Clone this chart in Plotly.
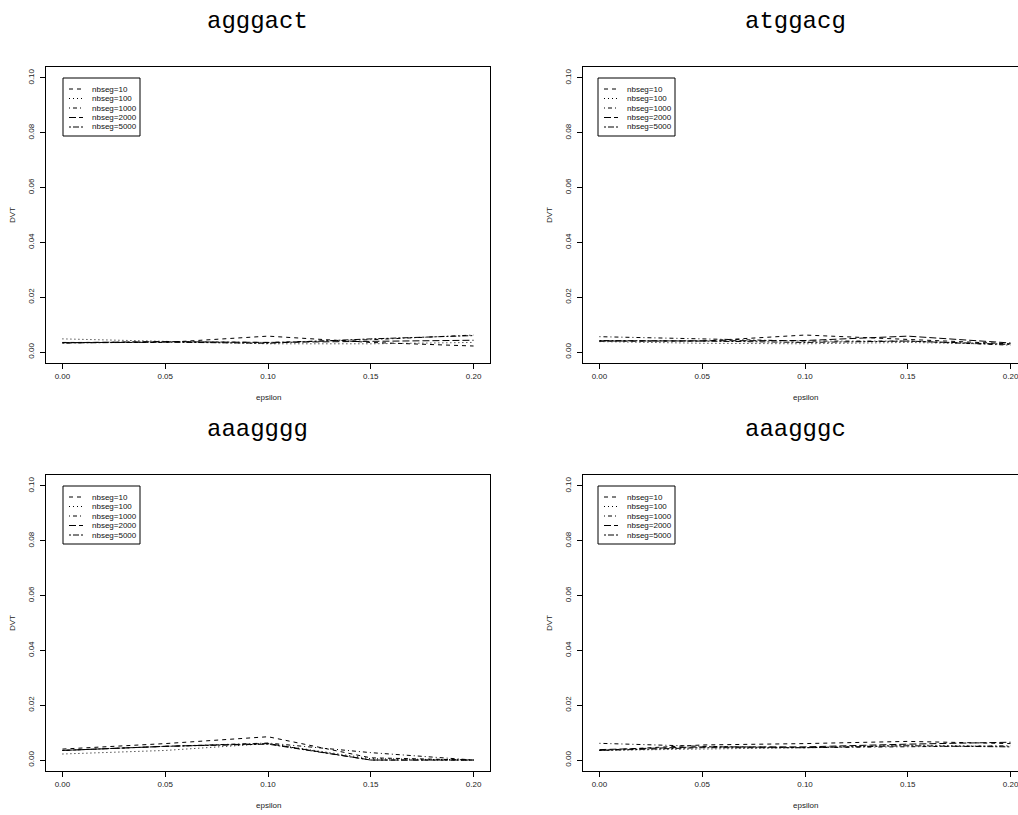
import plotly.graph_objects as go

W, H = 1018, 815

# ---------------- data ----------------
epsilon = [0.00, 0.05, 0.10, 0.15, 0.20]
series_names = ["nbseg=10", "nbseg=100", "nbseg=1000", "nbseg=2000", "nbseg=5000"]
panel_titles = ["agggact", "atggacg", "aaagggg", "aaagggc"]
x_ticks = [0.00, 0.05, 0.10, 0.15, 0.20]
y_ticks = [0.00, 0.02, 0.04, 0.06, 0.08, 0.10]

# DVT values, one row per series (nbseg=10, 100, 1000, 2000, 5000)
dvt_agggact = [
    [0.0035, 0.0035, 0.0058, 0.0035, 0.0022],
    [0.0048, 0.0040, 0.0030, 0.0030, 0.0035],
    [0.0033, 0.0038, 0.0035, 0.0045, 0.0062],
    [0.0034, 0.0038, 0.0035, 0.0040, 0.0043],
    [0.0033, 0.0036, 0.0032, 0.0048, 0.0060],
]
dvt_atggacg = [
    [0.0040, 0.0040, 0.0062, 0.0045, 0.0030],
    [0.0038, 0.0032, 0.0030, 0.0035, 0.0028],
    [0.0056, 0.0048, 0.0040, 0.0040, 0.0025],
    [0.0040, 0.0040, 0.0042, 0.0058, 0.0033],
    [0.0042, 0.0040, 0.0035, 0.0040, 0.0028],
]
dvt_aaagggg = [
    [0.0040, 0.0060, 0.0085, 0.0008, 0.0000],
    [0.0022, 0.0035, 0.0060, 0.0005, 0.0000],
    [0.0035, 0.0050, 0.0062, 0.0027, 0.0000],
    [0.0035, 0.0050, 0.0060, 0.0000, 0.0000],
    [0.0035, 0.0050, 0.0058, 0.0000, 0.0000],
]
dvt_aaagggc = [
    [0.0035, 0.0055, 0.0060, 0.0068, 0.0060],
    [0.0035, 0.0040, 0.0045, 0.0055, 0.0050],
    [0.0061, 0.0050, 0.0045, 0.0048, 0.0052],
    [0.0038, 0.0048, 0.0048, 0.0058, 0.0065],
    [0.0035, 0.0045, 0.0045, 0.0052, 0.0048],
]
panel_data = [dvt_agggact, dvt_atggacg, dvt_aaagggg, dvt_aaagggc]

# ---------------- styles ----------------
dashes = ["4px,4px", "1px,3px", "1px,3px,4px,3px", "7px,3px", "2px,2px,6px,2px"]
TICK_FONT = dict(family="Liberation Sans, Arial, sans-serif", size=8, color="#222")
TITLE_FONT = dict(family="Liberation Mono, Courier New, monospace", size=24, color="#000")


def px(x):
    return x / W


def py(y):
    return 1 - y / H


# panel geometry in pixels: (left, right, top, bottom)
cols = [(46, 490), (583, 1018)]
rows = [(67, 363), (475, 771)]
full_w = 444

fig = go.Figure()
annotations = []
shapes = []

for k in range(4):
    r, c = divmod(k, 2)
    x0, x1 = cols[c]
    y0, y1 = rows[r]
    xa = "x" if k == 0 else f"x{k+1}"
    ya = "y" if k == 0 else f"y{k+1}"
    xkey = "xaxis" if k == 0 else f"xaxis{k+1}"
    ykey = "yaxis" if k == 0 else f"yaxis{k+1}"

    # R-style 4% padding; right column is clipped at the page edge
    xr0, xr1 = -0.008, 0.208
    xr1 = xr0 + (xr1 - xr0) * (x1 - x0) / full_w

    for i, name in enumerate(series_names):
        fig.add_trace(go.Scatter(
            x=epsilon, y=panel_data[k][i], mode="lines", name=name,
            line=dict(color="black", width=1, dash=dashes[i]),
            xaxis=xa, yaxis=ya, showlegend=False, hoverinfo="skip",
        ))

    fig.update_layout(**{
        xkey: dict(
            domain=[px(x0), px(x1)], range=[xr0, xr1], anchor=ya,
            tickvals=x_ticks, tickformat=".2f", ticks="outside", ticklen=5,
            tickwidth=1, tickcolor="black", showline=True, linecolor="black",
            linewidth=1, mirror=True, showgrid=False, zeroline=False,
            tickfont=TICK_FONT, ticklabeloverflow="allow",
        ),
        ykey: dict(
            domain=[py(y1), py(y0)], range=[-0.004, 0.104], anchor=xa,
            tickvals=y_ticks, tickformat=".2f", ticks="outside", ticklen=5,
            tickwidth=1, tickcolor="black", showline=True, linecolor="black",
            linewidth=1, mirror=(c == 0), showgrid=False, zeroline=False,
            tickfont=TICK_FONT, tickangle=-90, ticklabelstandoff=3,
        ),
    })

    # panel title
    annotations.append(dict(
        text=panel_titles[k], x=px(257 if c == 0 else 795), y=py(y0 - 45),
        xref="paper", yref="paper", showarrow=False, font=TITLE_FONT,
        xanchor="center", yanchor="middle",
    ))
    # axis titles
    annotations.append(dict(
        text="DVT", x=px(x0 - 34), y=py((y0 + y1) / 2), xref="paper", yref="paper",
        showarrow=False, textangle=-90, font=TICK_FONT,
        xanchor="center", yanchor="middle",
    ))
    annotations.append(dict(
        text="epsilon", x=px(x0 + 222), y=py(y1 + 34), xref="paper", yref="paper",
        showarrow=False, font=TICK_FONT, xanchor="center", yanchor="middle",
    ))

    # legend box
    lx = x0 + (17 if c == 0 else 15)
    shapes.append(dict(
        type="rect", xref="paper", yref="paper",
        x0=px(lx), x1=px(lx + 77), y0=py(y0 + 11), y1=py(y0 + 69),
        line=dict(color="black", width=1), fillcolor="white", layer="above",
    ))
    for i, name in enumerate(series_names):
        yy = y0 + 22 + i * 9.5
        shapes.append(dict(
            type="line", xref="paper", yref="paper",
            x0=px(lx + 6), x1=px(lx + 20), y0=py(yy), y1=py(yy),
            line=dict(color="black", width=1, dash=dashes[i]), layer="above",
        ))
        annotations.append(dict(
            text=name, x=px(lx + 27), y=py(yy), xref="paper", yref="paper",
            showarrow=False, font=dict(family=TICK_FONT["family"], size=8, color="#111"),
            xanchor="left", yanchor="middle",
        ))

fig.update_layout(
    width=W, height=H, margin=dict(l=0, r=0, t=0, b=0),
    paper_bgcolor="white", plot_bgcolor="white",
    showlegend=False, annotations=annotations, shapes=shapes,
)

fig.write_html("out.html")
